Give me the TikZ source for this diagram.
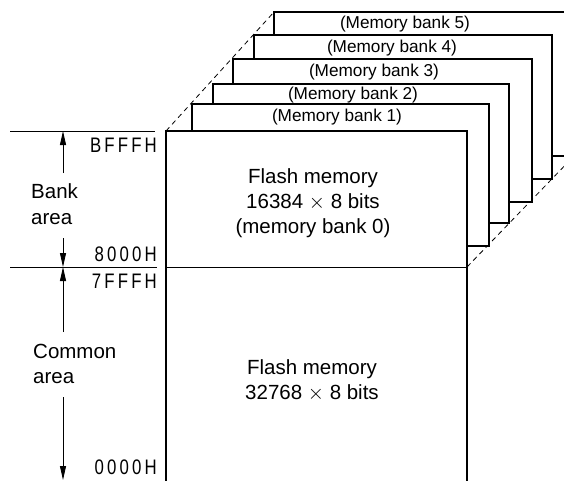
\documentclass[tikz,border=0pt]{standalone}
\usepackage{fontspec}
\setmainfont{Liberation Sans}
\newfontfamily\addrfont{Liberation Sans}[FakeStretch=0.8,LetterSpace=15]
\usetikzlibrary{arrows.meta}

\begin{document}
\begin{tikzpicture}[x=1pt,y=-1pt]
\tikzset{
  bankbox/.style={draw,line width=2.2pt,fill=white},
  thinline/.style={line width=0.9pt},
  guide/.style={line width=0.8pt,dash pattern=on 5pt off 4pt},
  span/.style={line width=0.9pt,-{Triangle[length=14pt,width=6pt]}},
  addr/.style={anchor=east,inner sep=0pt,font=\addrfont\fontsize{21}{24}\selectfont},
  banklabel/.style={inner sep=0pt,font=\fontsize{17.2}{20}\selectfont},
  areatext/.style={anchor=west,inner sep=0pt,align=left,font=\fontsize{20.5}{25.5}\selectfont},
  flashtext/.style={inner sep=0pt,align=center,font=\fontsize{20.5}{25}\selectfont}
}
\useasboundingbox (0,0) rectangle (564,480);
\clip (0,0) rectangle (564,480);
% corners of the banks (0 = front)
\foreach \k/\l/\t/\r/\b in {0/166/131/467/267,1/192/104/489/246,2/213/84/509/223,
                           3/233/59/532/202,4/254/35/552/179,5/274/12/574/156}{
  \coordinate (tl\k) at (\l,\t);
  \coordinate (tr\k) at (\r,\t);
  \coordinate (br\k) at (\r,\b);
}
% dashed guides behind the stack
\draw[guide] (tl0) -- (tl5);
\draw[guide] (tr0) -- (tr5);
\draw[guide] (br0) -- (br5);
% banks, back to front
\foreach \k/\lx/\ly in {5/405/24,4/392/48,3/374/72,2/353/95,1/337/117}{
  \draw[bankbox] (tl\k) rectangle (br\k);
  \node[banklabel] (lbl\k) at (\lx,\ly) {(Memory bank \k)};
}
\coordinate (front-bot) at (467,490);
\draw[bankbox] (tl0) rectangle (front-bot);
\draw[thinline] (tl0 |- br0) -- (br0);
% address scale
\coordinate (tick-hi) at (10,131);
\coordinate (tick-mid) at (10,267);
\draw[thinline] (tick-hi) -- ++(145,0);
\draw[thinline] (tick-mid) -- ++(147,0);
\node[addr] (a-bfff) at (157,145.5) {BFFFH};
\node[addr] (a-8000) at (157,254.5) {8000H};
\node[addr] (a-7fff) at (157,281.5) {7FFFH};
\node[addr] (a-0000) at (157,467) {0000H};
\node[areatext] (bankarea) at (31,204) {Bank\\area};
\node[areatext] (commonarea) at (33,364) {Common\\area};
\coordinate (bank-top) at (63,131);
\coordinate (bank-bot) at (63,267);
\coordinate (common-bot) at (63,480);
\draw[span] ([yshift=-42pt]bank-top) -- (bank-top);
\draw[span] ([yshift=29pt]bank-bot) -- (bank-bot);
\draw[span] ([yshift=-65pt]bank-bot) -- (bank-bot);
\draw[span] ([yshift=83pt]common-bot) -- (common-bot);
% contents
\node[flashtext] (flash0) at (313,203.5) {Flash memory\\16384 $\times$ 8 bits\\(memory bank 0)};
\node[flashtext] (flash1) at (312,380) {Flash memory\\32768 $\times$ 8 bits};
\end{tikzpicture}
\end{document}
